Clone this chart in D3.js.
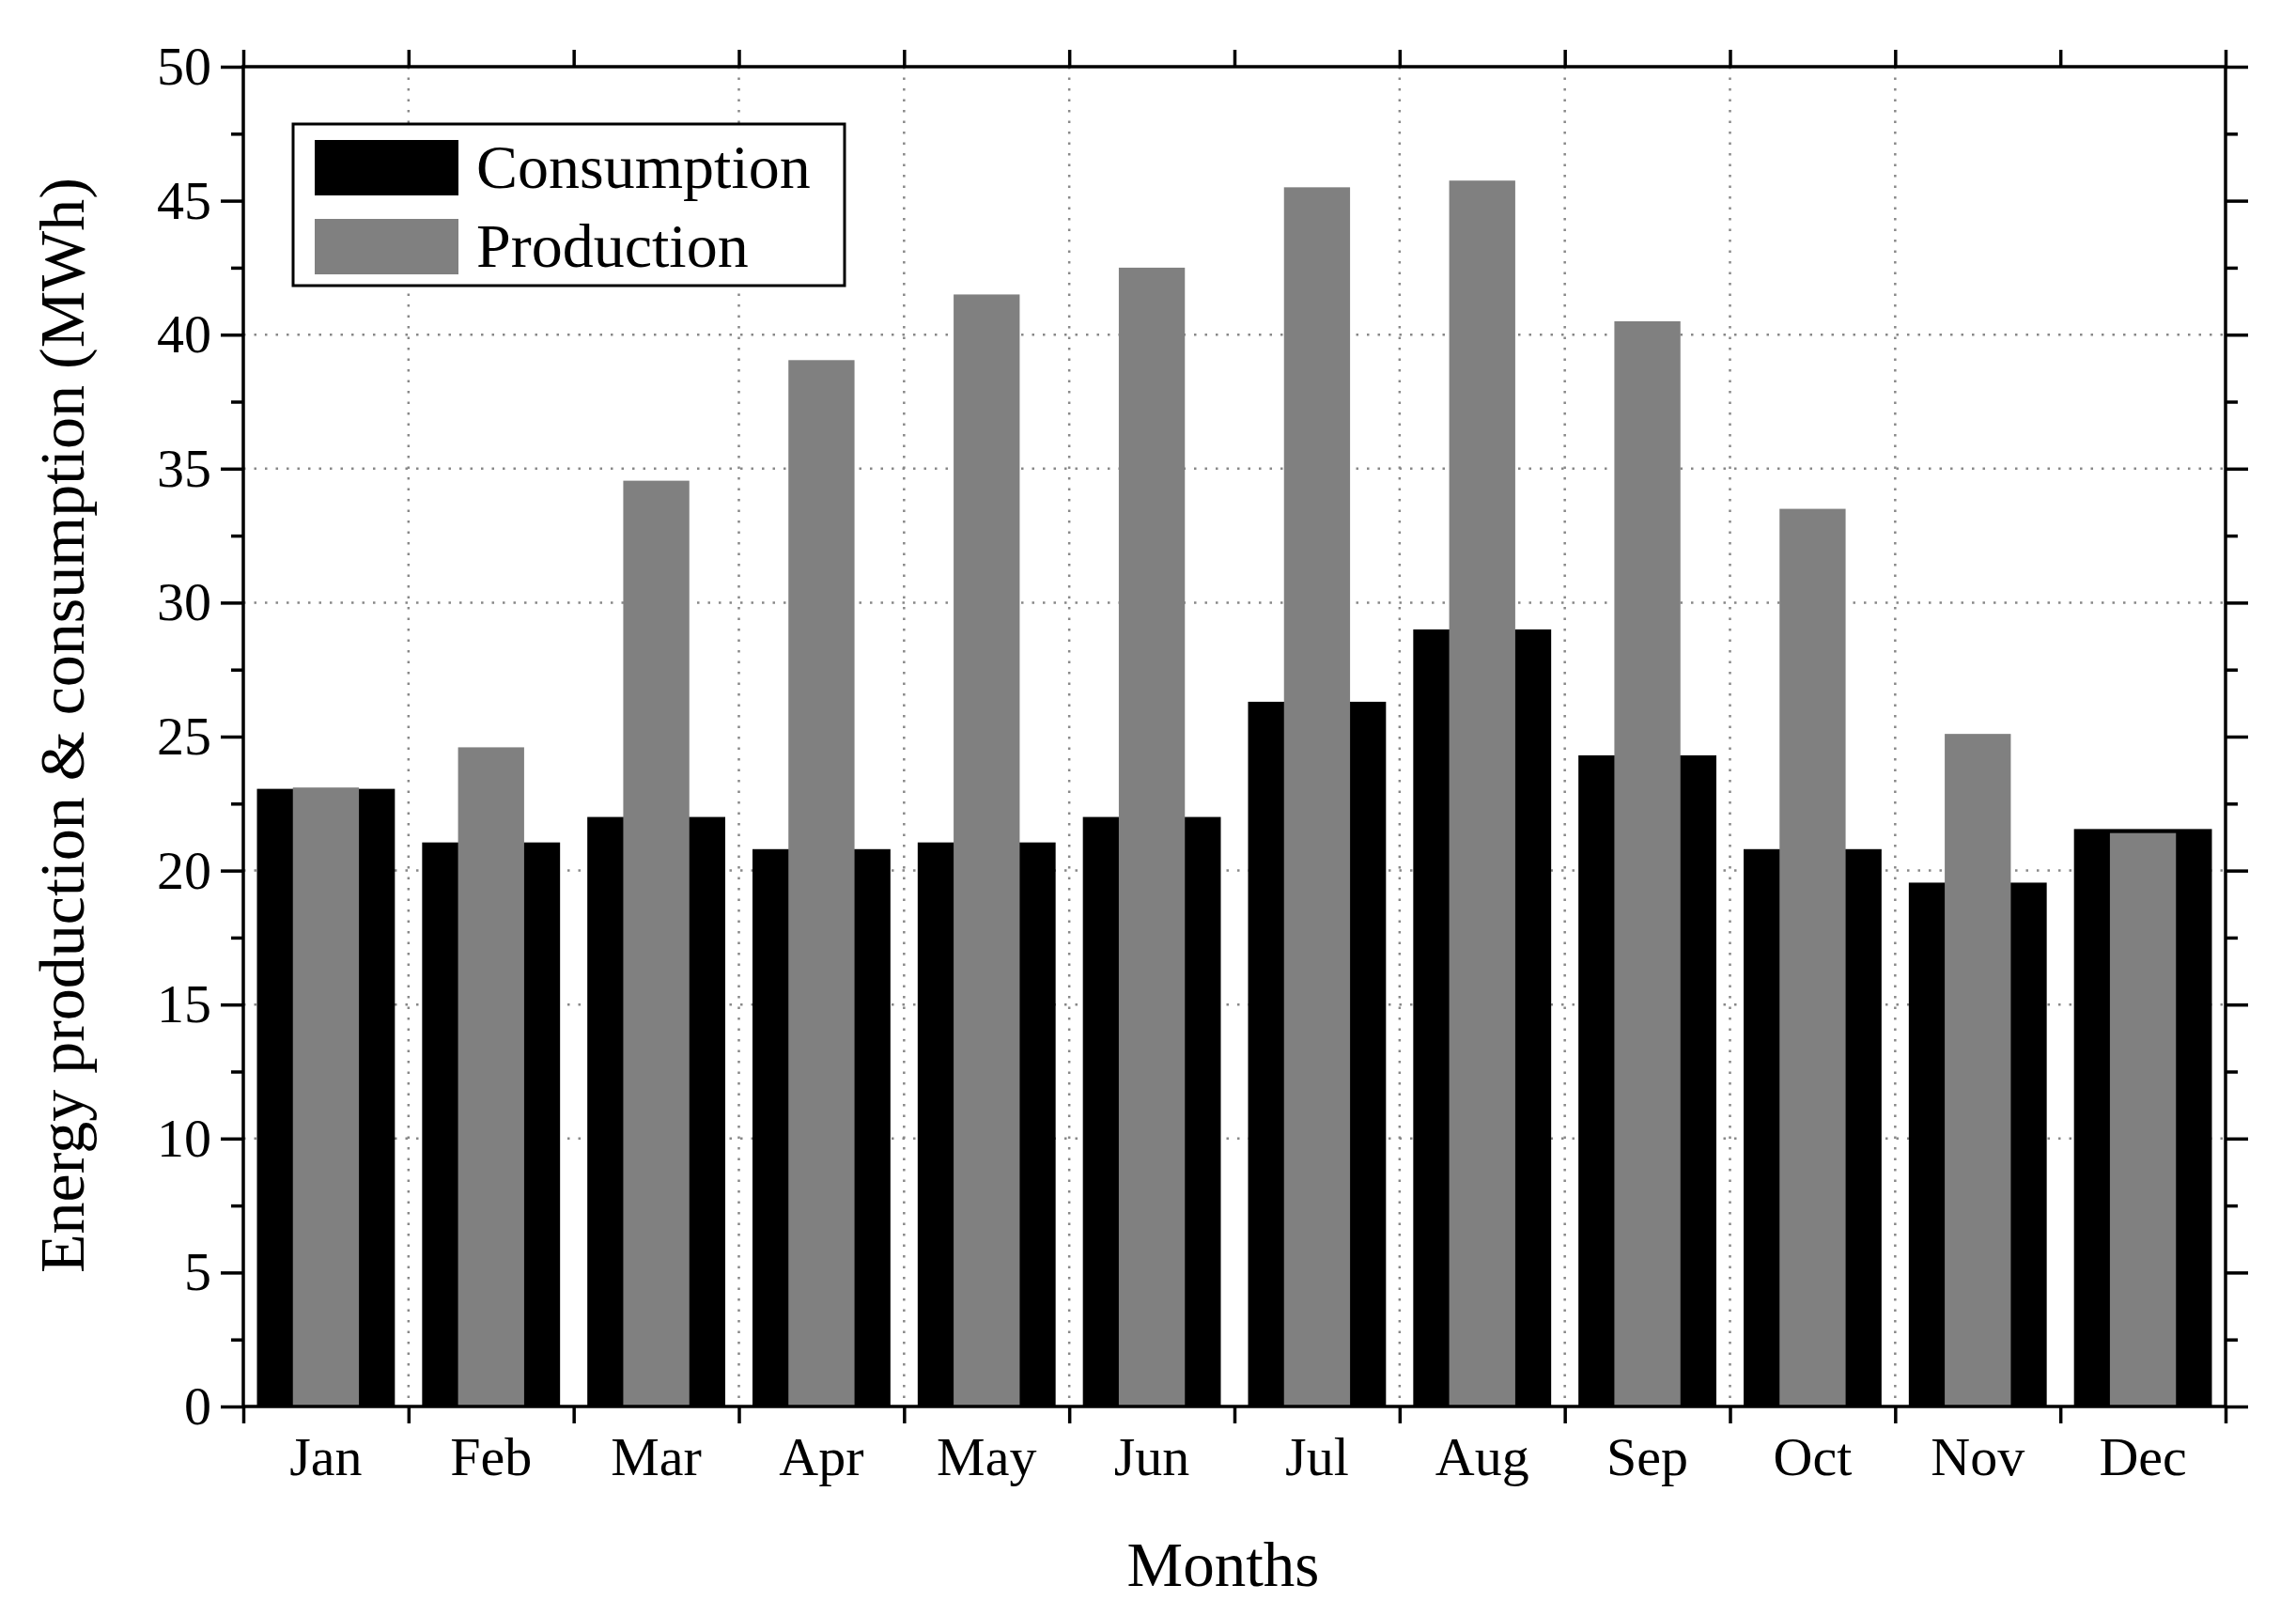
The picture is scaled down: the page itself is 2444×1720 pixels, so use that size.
<!DOCTYPE html>
<html lang="en">
    <head>
        <meta charset="UTF-8">
        <style>
            html, body{
                margin: 0;
                padding: 0;
                background: #fff;
            }
            #chart text{
                font-family: 'Liberation Serif', 'Times New Roman', serif;
                fill: #000;
            }
            .grid line{
                stroke: #888;
                stroke-width: 2.5px;
                stroke-dasharray: 2.5 9;
            }
            .axis path, .axis line{
                stroke: #000;
            }
        </style>
    </head>
    <body>
        <svg id="chart" width="2444" height="1720"></svg>

        <script src="https://d3js.org/d3.v7.min.js"></script>
        <script>
            // ---- data ----
            const months = ['Jan', 'Feb', 'Mar', 'Apr', 'May', 'Jun', 'Jul', 'Aug', 'Sep', 'Oct', 'Nov', 'Dec']
            const consumption = [23.05, 21.05, 22.0, 20.8, 21.05, 22.0, 26.3, 29.0, 24.3, 20.8, 19.55, 21.55]
            const production  = [23.1, 24.6, 34.55, 39.05, 41.5, 42.5, 45.5, 45.75, 40.5, 33.5, 25.1, 21.4]
            const yTicks = [0, 5, 10, 15, 20, 25, 30, 35, 40, 45, 50]
            const yMinorTicks = [2.5, 7.5, 12.5, 17.5, 22.5, 27.5, 32.5, 37.5, 42.5, 47.5]
            // grid lines that actually show in the picture
            const yGrid = [10, 15, 20, 30, 35, 40]
            const xGrid = [1, 3, 4, 5, 7, 8, 9, 10]
            const legendItems = [
                {label: 'Consumption', color: '#000000'},
                {label: 'Production',  color: '#808080'}
            ]

            const settings = {
                margin: {left: 259, right: 2444 - 2369, top: 71, bottom: 1720 - 1497},
                width: 2444,
                height: 1720,
                consWidth: 0.835,
                prodWidth: 0.40
            }
            const m = settings.margin
            const iw = settings.width - m.left - m.right
            const ih = settings.height - m.top - m.bottom

            const svg = d3.select('#chart')
            const g = svg.append('g').attr('transform', `translate(${m.left},${m.top})`)

            const x = d3.scaleBand().domain(months).range([0, iw]).padding(0)
            const xEdge = d3.scaleLinear().domain([0, months.length]).range([0, iw])
            const y = d3.scaleLinear().domain([0, 50]).range([ih, 0])

            // 1. dotted grid
            const grid = g.append('g').attr('class', 'grid')
            grid.selectAll('.hg').data(yGrid).join('line')
                .attr('x1', 0).attr('x2', iw)
                .attr('y1', d => y(d)).attr('y2', d => y(d))
            grid.selectAll('.vg').data(xGrid).join('line')
                .attr('x1', d => xEdge(d)).attr('x2', d => xEdge(d))
                .attr('y1', 0).attr('y2', ih)

            // 2. bars: consumption wide black, production narrow grey on top
            const bw = x.bandwidth()
            g.append('g').selectAll('rect').data(months).join('rect')
                .attr('x', d => x(d) + bw * (1 - settings.consWidth) / 2)
                .attr('width', bw * settings.consWidth)
                .attr('y', (d, i) => y(consumption[i]))
                .attr('height', (d, i) => y(0) - y(consumption[i]))
                .attr('fill', legendItems[0].color)
            g.append('g').selectAll('rect').data(months).join('rect')
                .attr('x', d => x(d) + bw * (1 - settings.prodWidth) / 2)
                .attr('width', bw * settings.prodWidth)
                .attr('y', (d, i) => y(production[i]))
                .attr('height', (d, i) => y(0) - y(production[i]))
                .attr('fill', legendItems[1].color)

            // 3. axes
            const styleAxis = sel => {
                sel.attr('class', 'axis')
                sel.select('.domain').remove()
                sel.selectAll('line').attr('stroke-width', 3.5)
            }
            g.append('g').call(d3.axisLeft(y).tickValues(yTicks).tickSize(24).tickPadding(10))
                .call(styleAxis)
                .selectAll('text').attr('font-size', 58)
            g.append('g').call(d3.axisLeft(y).tickValues(yMinorTicks).tickSize(13).tickFormat(''))
                .call(styleAxis)
            g.append('g').attr('transform', `translate(${iw},0)`)
                .call(d3.axisRight(y).tickValues(yTicks).tickSize(24).tickFormat(''))
                .call(styleAxis)
            g.append('g').attr('transform', `translate(${iw},0)`)
                .call(d3.axisRight(y).tickValues(yMinorTicks).tickSize(13).tickFormat(''))
                .call(styleAxis)
            g.append('g').attr('transform', `translate(0,${ih})`)
                .call(d3.axisBottom(xEdge).tickValues(d3.range(0, months.length + 1)).tickSize(18).tickFormat(''))
                .call(styleAxis)
            g.append('g').call(d3.axisTop(xEdge).tickValues(d3.range(0, months.length + 1)).tickSize(18).tickFormat(''))
                .call(styleAxis)
            g.append('g').attr('transform', `translate(0,${ih})`)
                .call(d3.axisBottom(x).tickSize(0).tickPadding(32))
                .call(styleAxis)
                .selectAll('text').attr('font-size', 58)

            // frame
            g.append('rect').attr('width', iw).attr('height', ih)
                .attr('fill', 'none').attr('stroke', '#000').attr('stroke-width', 3.5)

            // 4. axis titles
            svg.append('text')
                .attr('x', 1302).attr('y', 1688)
                .attr('text-anchor', 'middle').attr('font-size', 67)
                .text('Months')
            svg.append('text')
                .attr('transform', 'translate(89,772) rotate(-90)')
                .attr('text-anchor', 'middle').attr('font-size', 68)
                .text('Energy production & consumption (MWh)')

            // 5. legend
            const legend = svg.append('g').attr('transform', 'translate(312,132)')
            legend.append('rect').attr('width', 587).attr('height', 172)
                .attr('fill', '#fff').attr('stroke', '#000').attr('stroke-width', 3)
            const li = legend.selectAll('.item').data(legendItems).join('g')
                .attr('transform', (d, i) => `translate(23,${17 + i * 84})`)
            li.append('rect').attr('width', 153).attr('height', 59).attr('fill', d => d.color)
            li.append('text').attr('x', 172).attr('y', 51).attr('font-size', 66).text(d => d.label)
        </script>
    </body>
</html>
